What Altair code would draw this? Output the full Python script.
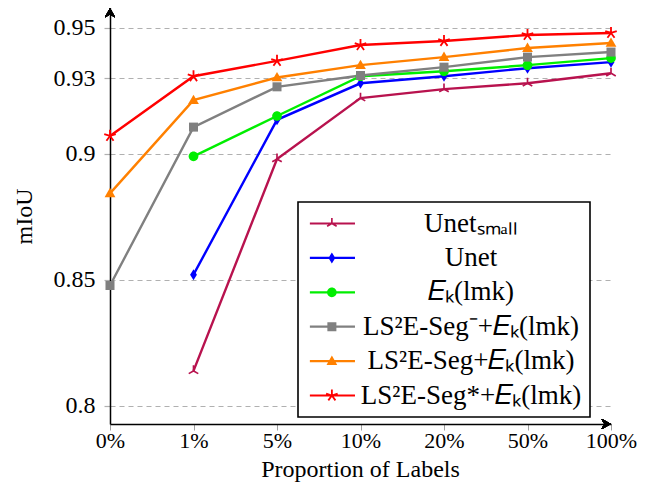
import json
import math
import altair as alt
import pandas as pd

# ---------------- data ----------------
x_labels = ['0%', '1%', '5%', '10%', '20%', '50%', '100%']
series_names = [
    "Unetₛₘₐₗₗ",
    "Unet",
    "𝐸ₖ(lmk)",
    "LS²E-Seg⁻+𝐸ₖ(lmk)",
    "LS²E-Seg+𝐸ₖ(lmk)",
    "LS²E-Seg*+𝐸ₖ(lmk)",
]
unet_small = [None, 0.8138, 0.8979, 0.9221, 0.9257, 0.928, 0.932]
unet = [None, 0.852, 0.9135, 0.928, 0.9308, 0.934, 0.9364]
ek = [None, 0.899, 0.915, 0.9308, 0.9328, 0.9352, 0.938]
seg_minus = [0.8477, 0.9106, 0.9266, 0.9311, 0.9344, 0.9384, 0.9404]
seg = [0.8843, 0.9213, 0.9303, 0.9352, 0.9384, 0.942, 0.944]
seg_star = [0.9071, 0.9308, 0.9369, 0.9432, 0.9448, 0.9472, 0.948]
y_ticks = [0.8, 0.85, 0.9, 0.93, 0.95]

series_values = [unet_small, unet, ek, seg_minus, seg, seg_star]
colors = ['#B8124E', '#0000FF', '#00EE00', '#808080', '#FF8000', '#FF0000']
marker_kinds = ['tri', 'diamond', 'circle', 'square', 'triangle', 'star']

Y_MIN, Y_MAX = 0.7927, 0.9579
X_MIN, X_MAX = 0, 6

rows = []
for k, (name, vals) in enumerate(zip(series_names, series_values)):
    for i, v in enumerate(vals):
        if v is not None:
            rows.append({'series': name, 'xi': i, 'y': v, 'order': k})
df = pd.DataFrame(rows)


# ---------------- marker paths ----------------
def f(v):
    return f"{v:.3f}"


def poly(pts):
    return "M" + "L".join(f"{f(x)},{f(y)}" for x, y in pts) + "Z"


def arms(angles, cx, s, length=1.0, half=0.15, back=0.15):
    out = []
    for a in angles:
        t = math.radians(a)
        d = (math.sin(t), -math.cos(t))
        p = (math.cos(t), math.sin(t))
        pts = [
            (-back * d[0] - half * p[0], -back * d[1] - half * p[1]),
            (length * d[0] - half * p[0], length * d[1] - half * p[1]),
            (length * d[0] + half * p[0], length * d[1] + half * p[1]),
            (-back * d[0] + half * p[0], -back * d[1] + half * p[1]),
        ]
        out.append(poly([(cx + s * x, s * y) for x, y in pts]))
    return "".join(out)


def marker(kind, cx=0.0, s=1.0):
    if kind == 'tri':
        return arms([0, 120, 240], cx, s)
    if kind == 'star':
        return arms([0, 72, 144, 216, 288], cx, 1.1 * s)
    if kind == 'diamond':
        return poly([(cx, -s), (cx + 0.62 * s, 0), (cx, s), (cx - 0.62 * s, 0)])
    if kind == 'circle':
        r = 0.88 * s
        return (f"M{f(cx - r)},0A{f(r)},{f(r)} 0 1,1 {f(cx + r)},0"
                f"A{f(r)},{f(r)} 0 1,1 {f(cx - r)},0Z")
    if kind == 'square':
        h = 0.82 * s
        return poly([(cx - h, -h), (cx + h, -h), (cx + h, h), (cx - h, h)])
    if kind == 'triangle':
        return poly([(cx, -s), (cx + 0.98 * s, 0.7 * s), (cx - 0.98 * s, 0.7 * s)])
    return ""


plot_shapes = [marker(k) for k in marker_kinds]
L0, L1, MC = -1.75, 6.45, 2.25
legend_shapes = [
    poly([(L0, -0.2), (L1, -0.2), (L1, 0.2), (L0, 0.2)]) + marker(k, cx=MC)
    for k in marker_kinds
]

FONT = 'Liberation Serif'

color_scale = alt.Scale(domain=series_names, range=colors)

x_axis = alt.Axis(
    values=list(range(len(x_labels))),
    labelExpr=f"{json.dumps(x_labels)}[datum.value]",
    labelFlush=False, labelOverlap=False,
    title='Proportion of Labels',
    grid=False,
    domainColor='black', domainWidth=1.5,
    tickColor='#a0a0a0', tickSize=6, tickWidth=1,
    labelFont=FONT, labelFontSize=22, labelColor='black', labelPadding=0,
    titleFont=FONT, titleFontSize=24, titleFontWeight='normal', titleColor='black',
    titleBaseline='alphabetic', titleY=52.5, titleX=250,
)
y_axis = alt.Axis(
    values=y_ticks,
    format='~g',
    labelFlush=False, labelOverlap=False,
    title='mIoU',
    grid=True, gridDash=[5, 4], gridColor='#b0b0b0', gridWidth=1.2,
    domainColor='black', domainWidth=1.5,
    tickColor='#b0b0b0', tickSize=6, tickWidth=1.2,
    labelFont=FONT, labelFontSize=24, labelColor='black', labelPadding=9,
    titleFont=FONT, titleFontSize=24, titleFontWeight='normal', titleColor='black',
    titleX=-86, titleY=208, titleBaseline='middle', titleAngle=270,
)

x_enc = alt.X('xi:Q', scale=alt.Scale(domain=[X_MIN, X_MAX], nice=False, zero=False), axis=x_axis)
y_enc = alt.Y('y:Q', scale=alt.Scale(domain=[Y_MIN, Y_MAX], nice=False, zero=False), axis=y_axis)

base = alt.Chart(df)

lines = base.mark_line(strokeWidth=2.4).encode(
    x=x_enc, y=y_enc,
    color=alt.Color('series:N', scale=color_scale, legend=None),
    order=alt.Order('xi:Q'),
)

points = base.mark_point(filled=True, opacity=1, size=121, strokeWidth=0).encode(
    x=x_enc, y=y_enc,
    color=alt.Color('series:N', scale=color_scale, legend=None),
    shape=alt.Shape('series:N', scale=alt.Scale(domain=series_names, range=plot_shapes), legend=None),
    order=alt.Order('order:Q'),
)


def build(with_stroke_width):
    legend_kw = dict(
        orient='none', legendX=188, legendY=194, title=None,
        labelFont=FONT, labelFontSize=27, labelColor='black', labelAlign='center',
        labelOffset=138, labelLimit=400, rowPadding=6.4, padding=8,
        strokeColor='black', fillColor='white',
        symbolSize=121, symbolStrokeWidth=0, symbolOpacity=1,
    )
    legend_layer = base.transform_filter('false').mark_point(filled=True, opacity=1).encode(
        x=x_enc, y=y_enc,
        color=alt.Color('series:N', scale=color_scale, legend=alt.Legend(**legend_kw)),
        shape=alt.Shape('series:N', scale=alt.Scale(domain=series_names, range=legend_shapes),
                        legend=alt.Legend(**legend_kw)),
    )

    up_arrow = "M0,0L0.9,1.7L0,1.2L-0.9,1.7Z"
    right_arrow = "M0,0L-1.7,0.9L-1.2,0L-1.7,-0.9Z"
    arrow_y = alt.Chart(df).mark_point(filled=True, opacity=1, size=121, color='black', shape=up_arrow,
                                       strokeWidth=0).encode(
        x=alt.datum(X_MIN), y=alt.datum(Y_MAX))
    arrow_x = alt.Chart(df).mark_point(filled=True, opacity=1, size=121, color='black', shape=right_arrow,
                                       strokeWidth=0).encode(
        x=alt.datum(X_MAX), y=alt.datum(Y_MIN))

    ch = alt.layer(lines, points, legend_layer, arrow_y, arrow_x).resolve_scale(
        color='independent', shape='independent'
    ).properties(
        width=501, height=416,
        padding={'left': 102, 'top': 0, 'right': 38, 'bottom': 58},
        autosize=alt.AutoSizeParams(type='none'),
    ).configure_view(stroke=None)
    if with_stroke_width:
        ch = ch.configure_legend(strokeWidth=1.6)
    return ch


try:
    chart = build(True)
    chart.to_dict()
except Exception:
    chart = build(False)

chart.save("out.html", embed_options={"renderer": "svg", "actions": False})
